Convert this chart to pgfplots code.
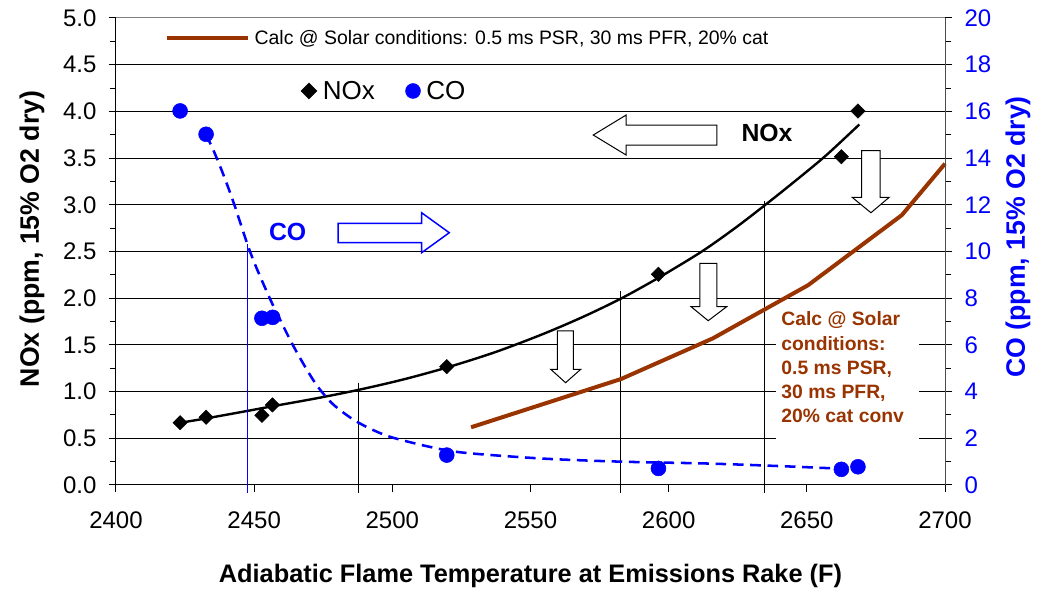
\documentclass[border=0pt]{standalone}
\usepackage{pgfplots}
\pgfplotsset{compat=1.18}
\usepackage{fontspec}
\setmainfont{Liberation Sans}

\definecolor{calcbrown}{RGB}{153,51,0}
\definecolor{coblue}{RGB}{0,0,255}

\begin{document}
\begin{tikzpicture}
% ---------------- left axis: NOx ----------------
\begin{axis}[
  name=main,
  scale only axis, width=621.75pt, height=350.25pt,
  xmin=2400, xmax=2700, ymin=0, ymax=5,
  clip=false,
  axis x line*=bottom, axis y line*=left,
  axis line style={-, black, line width=0.75pt},
  tick align=outside,
  major tick length=5.5pt, minor tick length=4.5pt,
  tick style={black, line width=0.75pt},
  xtick={2400,2450,2500,2550,2600,2650,2700},
  ytick={0,0.5,1,1.5,2,2.5,3,3.5,4,4.5,5},
  minor y tick num=1,
  ymajorgrids, grid style={black, line width=0.75pt},
  /pgf/number format/assume math mode=true,
  xticklabel style={font=\fontsize{18}{20}\selectfont, inner sep=0pt, yshift=-14.5pt, /pgf/number format/1000 sep={}},
  yticklabel style={font=\fontsize{18}{20}\selectfont, inner sep=0pt, xshift=-9pt, /pgf/number format/.cd, fixed, fixed zerofill, precision=1},
  every axis x label/.style={at={(axis description cs:0.5,-0.1949)}, anchor=center},
  every axis y label/.style={at={(axis description cs:-0.1013,0.527)}, anchor=center, rotate=90},
  x label style={font=\bfseries\fontsize{19}{22}\selectfont},
  y label style={font=\bfseries\fontsize{20}{22}\selectfont},
  xlabel={Adiabatic Flame Temperature at Emissions Rake (F)},
  ylabel={NOx (ppm, 15\% O2 dry)},
  legend style={draw=none, fill=none, at={(axis description cs:0.0591,0.9565)}, anchor=west,
    inner sep=0pt, outer sep=0pt, font=\fontsize{14.6}{17}\selectfont,
    nodes={inner sep=0pt}, column sep=3.2pt},
  legend image code/.code={\draw[#1] (0pt,0pt) -- (61pt,0pt);},
]
% white panel behind the annotation text
\fill[white] (2638.8,0.428) rectangle (2690.6,1.959);
% top border
\draw[gray, line width=0.75pt] (2400,5) -- (2700,5);

% hollow arrows
\filldraw[fill=white, draw=black, line width=0.75pt]
  (2572.7,3.747) -- (2584.6,3.961) -- (2584.6,3.854) -- (2617.4,3.854) --
  (2617.4,3.640) -- (2584.6,3.640) -- (2584.6,3.533) -- cycle;
\filldraw[fill=white, draw=black, line width=0.75pt]
  (2669.8,3.579) -- (2676.5,3.579) -- (2676.5,3.080) -- (2679.8,3.080) --
  (2673.2,2.915) -- (2666.4,3.080) -- (2669.8,3.080) -- cycle;
\filldraw[fill=white, draw=black, line width=0.75pt]
  (2611.3,2.374) -- (2617.4,2.374) -- (2617.4,1.909) -- (2621.0,1.909) --
  (2614.3,1.759) -- (2608.1,1.909) -- (2611.3,1.909) -- cycle;
\filldraw[fill=white, draw=black, line width=0.75pt]
  (2559.7,1.649) -- (2565.5,1.649) -- (2565.5,1.239) -- (2568.2,1.239) --
  (2562.7,1.095) -- (2557.3,1.239) -- (2559.7,1.239) -- cycle;
\filldraw[fill=white, draw=coblue, line width=1.1pt]
  (2480.4,2.802) -- (2510.6,2.802) -- (2510.6,2.915) -- (2520.6,2.701) --
  (2510.6,2.487) -- (2510.6,2.594) -- (2480.4,2.594) -- cycle;

% drop lines at 1, 2 and 3 ppm NOx
\addplot[black, line width=0.75pt, forget plot] coordinates {(2487.7,1.095) (2487.7,-0.086)};
\addplot[black, line width=0.75pt, forget plot] coordinates {(2582.5,2.077) (2582.5,-0.086)};
\addplot[black, line width=0.75pt, forget plot] coordinates {(2634.6,3.04) (2634.6,-0.086)};

% NOx trend
\addplot[black, line width=1.8pt, smooth, forget plot] coordinates {
  (2423,0.665) (2433,0.715) (2447,0.790) (2457,0.845) (2472,0.925)
  (2488,1.02) (2504,1.13) (2520,1.26) (2537,1.42) (2554,1.61)
  (2569,1.80) (2583,2.00) (2597,2.23) (2612,2.50) (2624,2.75)
  (2635,3.00) (2646,3.26) (2657,3.53) (2669,3.86)};

% calculated NOx at solar conditions
\addplot[calcbrown, line width=3pt] coordinates {
  (2528.5,0.618) (2582.8,1.135) (2616.0,1.57) (2650.5,2.14) (2684.4,2.89) (2700,3.44)};
\addlegendentry{Calc @ Solar conditions: 0.5 ms PSR, 30 ms PFR, 20\% cat}

% measured NOx
\addplot[only marks, black, mark=square*, mark size=3.8pt, mark options={rotate=45, fill=black}, forget plot]
  coordinates {(2423.2,0.667) (2432.6,0.725) (2452.8,0.746) (2456.6,0.857)
               (2519.7,1.267) (2596.3,2.256) (2662.5,3.515) (2668.5,4.004)};

\node[font=\bfseries\fontsize{18.6}{20}\selectfont] at (2635.6,3.769) {NOx};
\node[font=\bfseries\fontsize{18.6}{20}\selectfont, text=coblue] at (2462.1,2.712) {CO};
\node[anchor=north west, inner sep=0pt, align=left, text=calcbrown,
      font=\bfseries\fontsize{14.5}{18.2}\selectfont] at (2640.7,1.856)
  {Calc @ Solar\\conditions:\\0.5 ms PSR,\\30 ms PFR,\\20\% cat conv};
\end{axis}

% ---------------- right axis: CO ----------------
\begin{axis}[
  scale only axis, width=621.75pt, height=350.25pt,
  xmin=2400, xmax=2700, ymin=0, ymax=20,
  clip=false,
  hide x axis,
  axis y line*=right,
  axis line style={-, gray!60!black, line width=0.75pt},
  tick align=outside,
  major tick length=5.5pt, minor tick length=4.5pt,
  tick style={black, line width=0.75pt},
  ytick={0,2,4,6,8,10,12,14,16,18,20},
  minor y tick num=1,
  /pgf/number format/assume math mode=true,
  yticklabel style={font=\fontsize{18}{20}\selectfont, text=coblue, inner sep=0pt, xshift=9pt},
  every axis y label/.style={at={(axis description cs:1.088,0.531)}, anchor=center, rotate=90},
  y label style={font=\bfseries\fontsize{20}{22}\selectfont, text=coblue},
  ylabel={CO (ppm, 15\% O2 dry)},
  legend style={draw=none, fill=none, at={(axis description cs:0.2232,0.8437)}, anchor=west,
    inner sep=0pt, outer sep=0pt, font=\fontsize{19.5}{22}\selectfont,
    nodes={inner sep=0pt}, legend columns=2,
    /tikz/every odd column/.append style={column sep=4.5pt},
    /tikz/every even column/.append style={column sep=23pt}},
  legend image code/.code={\draw[#1] plot coordinates {(0pt,0pt)};},
]
\addlegendimage{only marks, black, mark=square*, mark size=4.2pt, mark options={rotate=45, fill=black}}
\addlegendentry{NOx}

% drop line at 10 ppm CO
\addplot[coblue, line width=0.9pt, forget plot] coordinates {(2447.6,10.3) (2447.6,-0.34)};

% CO trend
\addplot[coblue, line width=1.9pt, dash pattern=on 8pt off 5pt, smooth, forget plot] coordinates {
  (2432.6,15.00) (2435.2,14.35) (2438.5,13.40) (2442.4,12.15) (2447.3,10.40)
  (2450.3,9.45) (2455.7,7.98) (2460.0,6.93) (2464.2,5.95) (2469.0,4.95)
  (2473.2,4.18) (2478.6,3.45) (2485.9,2.80) (2493.1,2.35) (2500.4,2.02)
  (2514.8,1.60) (2526.9,1.37) (2554.6,1.13) (2582.4,1.00) (2613.8,0.92)
  (2640.0,0.81) (2662.0,0.70)};

% measured CO
\addplot[only marks, coblue, mark=*, mark size=5.6pt, mark options={fill=coblue}]
  coordinates {(2423.2,16.02) (2432.6,15.02) (2452.8,7.14) (2456.7,7.18)
               (2519.7,1.28) (2596.3,0.71) (2662.5,0.67) (2668.5,0.78)};
\addlegendentry{CO}
\end{axis}

\pgfresetboundingbox
\path[use as bounding box] ([shift={(-87pt,-81pt)}]main.south west) rectangle ([shift={(73.5pt,13.5pt)}]main.north east);
\end{tikzpicture}
\end{document}
